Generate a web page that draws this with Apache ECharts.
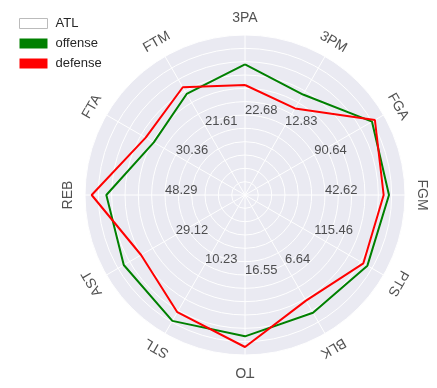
<!DOCTYPE html>
<html>
<head>
<meta charset="utf-8">
<script src="https://cdn.jsdelivr.net/npm/echarts@6/dist/echarts.min.js"></script>
<style>html,body{margin:0;padding:0;background:#fff;}#chart{width:437px;height:388px;}</style>
</head>
<body>
<div id="chart"></div>
<script>
// Axes clockwise from the top
var categories = ['3PA','3PM','FGA','FGM','PTS','BLK','TO','STL','AST','REB','FTA','FTM'];
// radial values (grid units, outer edge = 12)
var offense = [9.8, 8.7, 11.0, 10.8, 10.6, 10.2, 10.6, 10.9, 10.5, 10.4, 7.9, 8.75];
var defense = [8.25, 7.5, 11.25, 10.4, 10.25, 9.15, 11.4, 10.15, 9.0, 11.5, 8.6, 9.33];
// per-axis value labels shown at mid radius
var midLabels = ['22.68','12.83','90.64','42.62','115.46','6.64','16.55','10.23','29.12','48.29','30.36','21.61'];
var legendNames = ['ATL','offense','defense'];

var RMAX = 12, MID = 6, LABEL_R = 13.25;
var FONT = '"Liberation Sans", Arial, sans-serif';
var TXT = '#262626';

function angleOf(i){ return i * 360 / categories.length; }
function closed(vals){
  var d = vals.map(function(v,i){ return [v, angleOf(i)]; });
  d.push([vals[0], 360]);
  return d;
}

var catData = categories.map(function(c,i){
  return {value:[LABEL_R, angleOf(i)], name:c, label:{rotate: -angleOf(i)}};
});
var midData = midLabels.map(function(t,i){
  return {value:[MID, angleOf(i)], name:t};
});

var hidden = {axisLine:{show:false}, axisTick:{show:false}, axisLabel:{show:false}};
function ax(extra){ return Object.assign({}, hidden, extra); }

var chart = echarts.init(document.getElementById('chart'));
chart.setOption({
  animation:false,
  backgroundColor:'#ffffff',
  textStyle:{fontFamily:FONT},
  polar:[{center:[245,195], radius:160}, {center:[245,195], radius:160}],
  angleAxis:[
    ax({polarIndex:0, type:'value', min:0, max:360, interval:30, startAngle:90, z:0,
      splitLine:{show:false}, splitArea:{show:true, areaStyle:{color:['#EAEAF2']}}}),
    ax({polarIndex:1, type:'value', min:0, max:360, interval:30, startAngle:90, clockwise:true, z:1,
      splitLine:{show:true, lineStyle:{color:'#ffffff', width:1}}, splitArea:{show:false}})
  ],
  radiusAxis:[
    ax({polarIndex:0, type:'value', min:0, max:RMAX, interval:1, z:0,
      splitLine:{show:false}, splitArea:{show:false}}),
    ax({polarIndex:1, type:'value', min:0, max:RMAX, interval:1, z:1,
      splitLine:{show:true, lineStyle:{color:'#ffffff', width:1}}, splitArea:{show:false}})
  ],
  legend:{
    orient:'vertical', left:14, top:12, itemWidth:28, itemHeight:10, itemGap:7,
    textStyle:{fontSize:13, color:TXT, fontFamily:FONT, padding:[0,0,0,3]},
    data:[
      {name:legendNames[0], icon:'rect', itemStyle:{color:'#ffffff', borderColor:'#bbbbbb', borderWidth:1}},
      {name:legendNames[1], icon:'rect', itemStyle:{color:'#008000'}},
      {name:legendNames[2], icon:'rect', itemStyle:{color:'#ff0000'}}
    ]
  },
  series:[
    {name:legendNames[0], type:'line', coordinateSystem:'polar', polarIndex:1, data:[], itemStyle:{color:'#ffffff'}},
    {name:legendNames[1], type:'line', coordinateSystem:'polar', polarIndex:1, data:closed(offense),
      showSymbol:false, symbol:'none', lineStyle:{color:'#008000', width:2}, itemStyle:{color:'#008000'}, z:3},
    {name:legendNames[2], type:'line', coordinateSystem:'polar', polarIndex:1, data:closed(defense),
      showSymbol:false, symbol:'none', lineStyle:{color:'#ff0000', width:2}, itemStyle:{color:'#ff0000'}, z:4},
    {type:'scatter', coordinateSystem:'polar', polarIndex:1, data:midData, symbolSize:0, clip:false, silent:true, z:2,
      label:{show:true, position:[0,0], align:'left', verticalAlign:'bottom', offset:[0,2],
        formatter:function(p){return p.name;}, fontSize:13, color:TXT, fontFamily:FONT}},
    {type:'scatter', coordinateSystem:'polar', polarIndex:1, data:catData, symbolSize:0, clip:false, silent:true, z:2,
      label:{show:true, position:'inside', align:'center', verticalAlign:'middle',
        formatter:function(p){return p.name;}, fontSize:14, color:TXT, fontFamily:FONT}}
  ]
});
</script>
</body>
</html>
